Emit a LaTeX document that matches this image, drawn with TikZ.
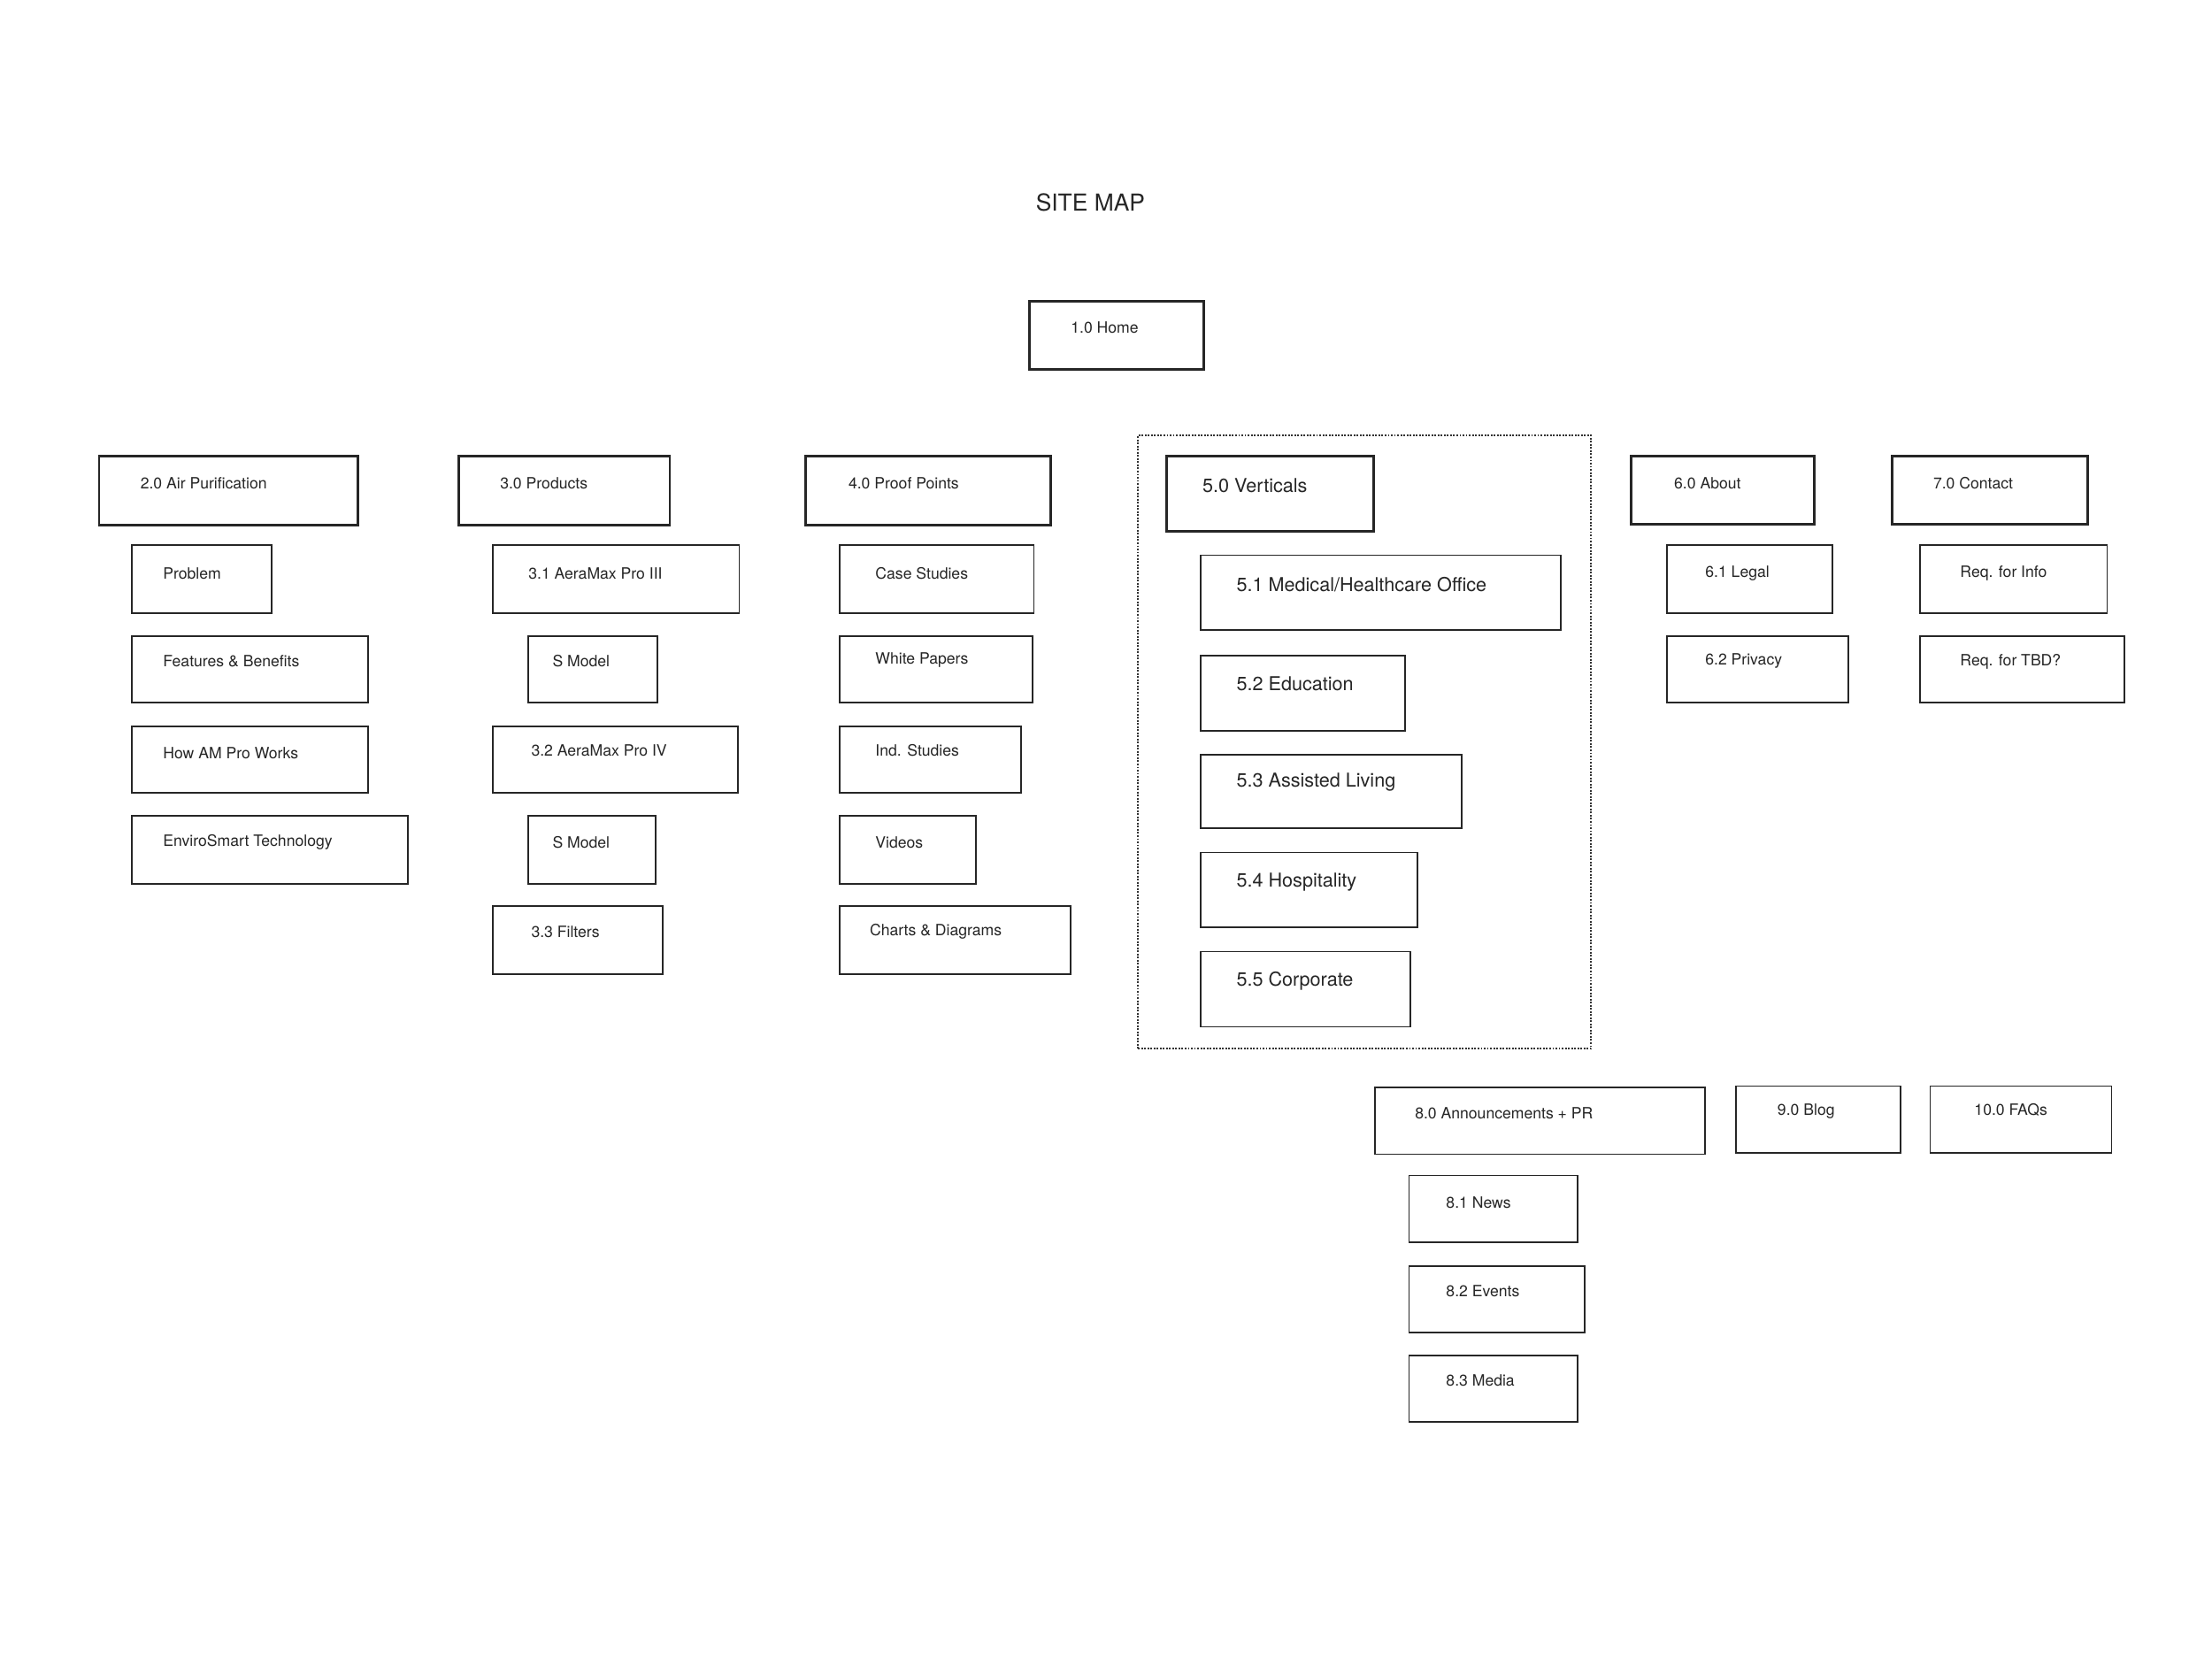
\documentclass[tikz,border=0pt]{standalone}
\usepackage{fontspec}
\setmainfont{TeX Gyre Heros}
\begin{document}
\begin{tikzpicture}[x=1pt,y=-1pt,
  thinbox/.style={draw=black!85,line width=1.1pt,inner sep=0pt,outer sep=0pt,anchor=north west},
  topbox/.style={draw=black!85,line width=1.8pt,inner sep=0pt,outer sep=0pt,anchor=north west},
  lbl/.style={anchor=west,inner sep=0pt,font=\fontsize{11}{13}\selectfont,text=black!85},
  biglbl/.style={anchor=west,inner sep=0pt,font=\fontsize{13.5}{16}\selectfont,text=black!85}]
\useasboundingbox[fill=white] (0,0) rectangle (1562,1171.5);
\newcommand\bx[9]{\node[#9,minimum width={(#4-#2)*1pt},minimum height={(#5-#3)*1pt}] (#1) at (#2,#3) {};
  \node[lbl] (#1t) at (#6,#7) {#8};}
\newcommand\bbx[9]{\node[#9,minimum width={(#4-#2)*1pt},minimum height={(#5-#3)*1pt}] (#1) at (#2,#3) {};
  \node[biglbl] (#1t) at (#6,#7) {#8};}
\node[font=\fontsize{16.5}{19}\selectfont,text=black!85] (title) at (770,143) {SITE MAP};
\node[draw=black!80,densely dotted,line width=1.2pt,inner sep=0pt,anchor=north west,minimum width=320pt,minimum height=433pt] (grp) at (803,307) {};
\bx{home}{727}{213}{850}{261}{756}{231}{1.0 Home}{topbox}
\bx{a}{70}{322}{253}{371}{99}{341}{2.0 Air Purification}{topbox}
\bx{a1}{93}{385}{192}{433}{115}{405}{Problem}{thinbox}
\bx{a2}{93}{449}{260}{496}{115}{467}{Features \& Benefits}{thinbox}
\bx{a3}{93}{513}{260}{560}{115}{532}{How AM Pro Works}{thinbox}
\bx{a4}{93}{576}{288}{624}{115}{595}{EnviroSmart Technology}{thinbox}
\bx{b}{324}{322}{473}{371}{353}{341}{3.0 Products}{topbox}
\bx{b1}{348}{385}{522}{433}{373}{405}{3.1 AeraMax Pro III}{thinbox}
\bx{b2}{373}{449}{464}{496}{390}{467}{S Model}{thinbox}
\bx{b3}{348}{513}{521}{560}{375}{530}{3.2 AeraMax Pro IV}{thinbox}
\bx{b4}{373}{576}{463}{624}{390}{595}{S Model}{thinbox}
\bx{b5}{348}{640}{468}{688}{375}{658}{3.3 Filters}{thinbox}
\bx{c}{569}{322}{742}{371}{599}{341}{4.0 Proof Points}{topbox}
\bx{c1}{593}{385}{730}{433}{618}{405}{Case Studies}{thinbox}
\bx{c2}{593}{449}{729}{496}{618}{466}{White Papers}{thinbox}
\bx{c3}{593}{513}{721}{560}{618}{530}{Ind. Studies}{thinbox}
\bx{c4}{593}{576}{689}{624}{618}{595}{Videos}{thinbox}
\bx{c5}{593}{640}{756}{688}{614}{658}{Charts \& Diagrams}{thinbox}
\bbx{d}{824}{322}{970}{375}{849}{343}{5.0 Verticals}{topbox}
\bbx{d1}{848}{392}{1102}{445}{873}{413}{5.1 Medical/Healthcare Office}{thinbox}
\bbx{d2}{848}{463}{992}{516}{873}{483}{5.2 Education}{thinbox}
\bbx{d3}{848}{533}{1032}{585}{873}{552}{5.3 Assisted Living}{thinbox}
\bbx{d4}{848}{602}{1001}{655}{873}{623}{5.4 Hospitality}{thinbox}
\bbx{d5}{848}{672}{996}{725}{873}{693}{5.5 Corporate}{thinbox}
\bx{e}{1152}{322}{1281}{370}{1182}{341}{6.0 About}{topbox}
\bx{e1}{1177}{385}{1294}{433}{1204}{405}{6.1 Legal}{thinbox}
\bx{e2}{1177}{449}{1305}{496}{1204}{467}{6.2 Privacy}{thinbox}
\bx{f}{1336}{322}{1474}{370}{1365}{341}{7.0 Contact}{topbox}
\bx{f1}{1356}{385}{1488}{433}{1384}{405}{Req. for Info}{thinbox}
\bx{f2}{1356}{449}{1500}{496}{1384}{467}{Req. for TBD?}{thinbox}
\bx{g}{971}{768}{1204}{815}{999}{786}{8.0 Announcements + PR}{thinbox}
\bx{h}{1226}{767}{1342}{814}{1255}{785}{9.0 Blog}{thinbox}
\bx{i}{1363}{767}{1491}{814}{1394}{784}{10.0 FAQs}{thinbox}
\bx{g1}{995}{830}{1114}{877}{1021}{849}{8.1 News}{thinbox}
\bx{g2}{995}{894}{1119}{941}{1021}{912}{8.2 Events}{thinbox}
\bx{g3}{995}{957}{1114}{1004}{1021}{975}{8.3 Media}{thinbox}
\end{tikzpicture}
\end{document}
